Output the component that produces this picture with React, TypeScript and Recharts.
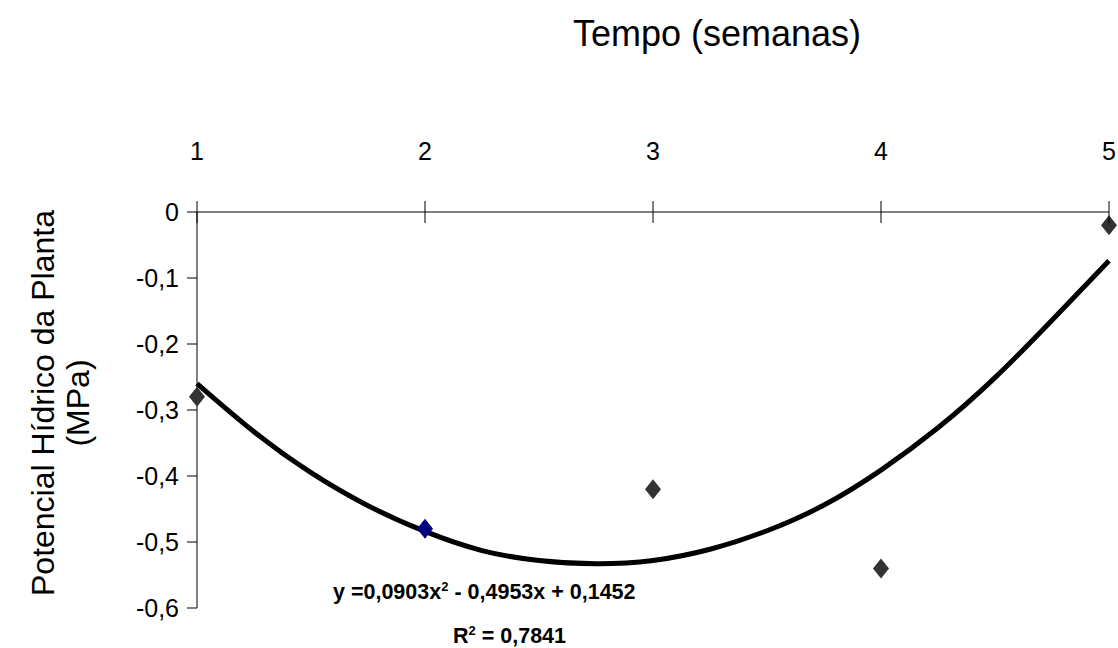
import React from 'react';
import { ComposedChart, Line, Scatter, XAxis, YAxis } from 'recharts';

// measured points (semana, MPa)
const weeks = [1, 2, 3, 4, 5];
const potencial = [-0.28, -0.48, -0.42, -0.54, -0.02];
const pointColors = ['#333333', '#000080', '#333333', '#333333', '#333333'];

// trend line
const trendX = [1, 1.25, 1.5, 1.75, 2, 2.25, 2.5, 2.75, 3, 3.25, 3.5, 3.75, 4, 4.25, 4.5, 4.75, 5];
const trendY = [-0.26, -0.333, -0.395, -0.445, -0.484, -0.513, -0.528, -0.533, -0.528, -0.511, -0.483, -0.444, -0.391, -0.327, -0.251, -0.164, -0.074];

const yTicks = [-0.6, -0.5, -0.4, -0.3, -0.2, -0.1, 0];

const FONT = '"Liberation Sans", Arial, sans-serif';

const points = weeks.map((w, i) => ({ x: w, y: potencial[i], color: pointColors[i] }));
const trend = trendX.map((x, i) => ({ x, t: trendY[i] }));

const fmt = (v: number) => (v === 0 ? '0' : v.toFixed(1).replace('.', ','));

const Diamond = (props: any) => {
  const { cx, cy, payload } = props;
  return (
    <polygon
      points={`${cx},${cy - 10} ${cx + 8},${cy} ${cx},${cy + 10} ${cx - 8},${cy}`}
      fill={payload.color}
    />
  );
};

const TopTick = (props: any) => {
  const { x, y, payload } = props;
  return (
    <g>
      <line x1={x} x2={x} y1={y - 11} y2={y + 11} stroke="#000" strokeWidth={1} />
      <text x={x} y={y - 52} textAnchor="middle" fontSize={25} fontFamily={FONT} fill="#000">
        {payload.value}
      </text>
    </g>
  );
};

export default function App() {
  React.useEffect(() => {
    document.body.style.margin = '0';
  }, []);

  return (
    <div style={{ position: 'relative', width: 1118, height: 648, background: '#fff', fontFamily: FONT }}>
      <div style={{ position: 'absolute', left: 573, top: 13, fontSize: 36, whiteSpace: 'nowrap' }}>
        Tempo (semanas)
      </div>
      <div
        style={{
          position: 'absolute',
          left: 61,
          top: 403,
          transform: 'translate(-50%, -50%) rotate(-90deg)',
          fontSize: 32,
          textAlign: 'center',
          lineHeight: '35px',
          whiteSpace: 'nowrap',
        }}
      >
        Potencial Hídrico da Planta
        <br />
        (MPa)
      </div>
      <ComposedChart
        width={1118}
        height={648}
        margin={{ top: 132, right: 9, bottom: 40, left: 0 }}
        style={{ position: 'absolute', left: 0, top: 0 }}
      >
        <XAxis
          dataKey="x"
          type="number"
          orientation="top"
          domain={[1, 5]}
          ticks={weeks}
          allowDuplicatedCategory={false}
          height={80}
          tickLine={false}
          tickSize={0}
          tickMargin={0}
          axisLine={{ stroke: '#000', strokeWidth: 1 }}
          tick={<TopTick />}
        />
        <YAxis
          type="number"
          domain={[-0.6, 0]}
          ticks={yTicks}
          width={197}
          tickFormatter={fmt}
          tickSize={10}
          tickMargin={8}
          axisLine={{ stroke: '#000', strokeWidth: 1 }}
          tickLine={{ stroke: '#000', strokeWidth: 1 }}
          tick={{ fill: '#000', fontSize: 25, fontFamily: FONT }}
        />
        <Line
          data={trend}
          dataKey="t"
          type="natural"
          stroke="#000"
          strokeWidth={5}
          dot={false}
          activeDot={false}
          isAnimationActive={false}
        />
        <Scatter data={points} dataKey="y" shape={<Diamond />} isAnimationActive={false} />
      </ComposedChart>
      <div style={{ position: 'absolute', left: 333, top: 575, fontSize: 21.5, fontWeight: 'bold', whiteSpace: 'nowrap', lineHeight: '24px' }}>
        y =0,0903x<sup style={{ fontSize: 13 }}>2</sup> - 0,4953x + 0,1452
      </div>
      <div style={{ position: 'absolute', left: 453, top: 619, fontSize: 21.5, fontWeight: 'bold', whiteSpace: 'nowrap', lineHeight: '24px' }}>
        R<sup style={{ fontSize: 13 }}>2</sup> = 0,7841
      </div>
    </div>
  );
}
